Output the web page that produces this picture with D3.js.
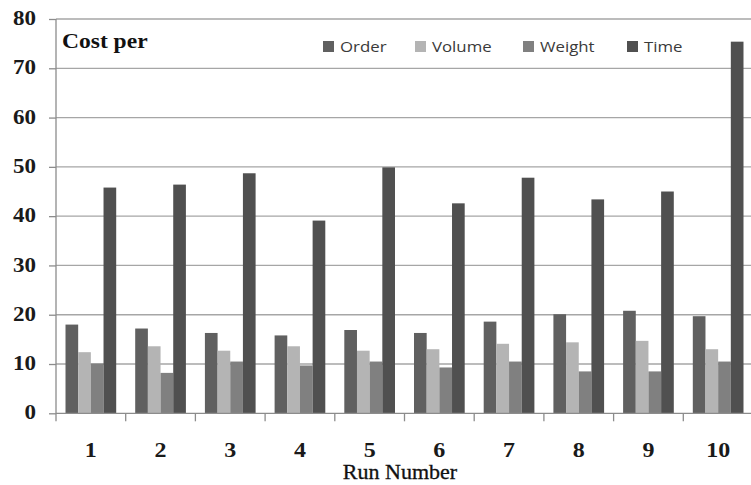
<!DOCTYPE html>
<html><head><meta charset="utf-8">
<script src="https://cdn.jsdelivr.net/npm/d3@7"></script>
<style>body{margin:0;background:#fff}</style>
</head><body>
<svg id="chart" width="751" height="485"></svg>
<script>
const categories = ["1","2","3","4","5","6","7","8","9","10"];
const seriesNames = ["Order","Volume","Weight","Time"];
const orderVals  = [18.0, 17.2, 16.3, 15.8, 16.9, 16.3, 18.6, 20.1, 20.8, 19.7];
const volumeVals = [12.4, 13.6, 12.7, 13.6, 12.7, 13.0, 14.1, 14.4, 14.7, 13.0];
const weightVals = [10.1, 8.2, 10.5, 9.7, 10.5, 9.3, 10.5, 8.5, 8.5, 10.5];
const timeVals   = [45.8, 46.4, 48.7, 39.1, 49.9, 42.6, 47.8, 43.4, 45.0, 75.4];
const yTicks = [0,10,20,30,40,50,60,70,80];
const colors = ["#606060","#b4b4b4","#808080","#505050"];

const series = [orderVals, volumeVals, weightVals, timeVals];
const svg = d3.select("#chart");
const mLeft = 56, mRight = 753, mTop = 19, mBottom = 413.3;
const serif = "'Liberation Serif', 'Times New Roman', serif";

function stretch(sel, k) {
  sel.each(function () {
    const L = this.getComputedTextLength();
    d3.select(this).attr("textLength", L * k).attr("lengthAdjust", "spacingAndGlyphs");
  });
}

const x = d3.scaleBand().domain(categories).range([mLeft, mRight]).paddingInner(0).paddingOuter(0);
const xs = d3.scaleBand().domain(seriesNames).range([0, x.bandwidth()]).paddingInner(0).paddingOuter(0.75);
const y = d3.scaleLinear().domain([0, 80]).range([mBottom, mTop]);

// gridlines
svg.append("g").selectAll("line").data(yTicks.filter(d => d > 0)).join("line")
  .attr("x1", mLeft).attr("x2", 751).attr("y1", d => y(d)).attr("y2", d => y(d))
  .attr("stroke", "#a6a6a6").attr("stroke-width", 1.3);

// bars
const g = svg.append("g");
categories.forEach((c, i) => {
  g.selectAll(null).data(seriesNames).enter().append("rect")
    .attr("x", s => x(c) + xs(s))
    .attr("width", xs.bandwidth())
    .attr("y", (s, k) => y(series[k][i]))
    .attr("height", (s, k) => mBottom - y(series[k][i]))
    .attr("fill", (s, k) => colors[k]);
});

// y axis
const yAxis = d3.axisLeft(y).tickValues(yTicks).tickSize(7).tickPadding(13);
const ya = svg.append("g").attr("transform", `translate(${mLeft},0)`).call(yAxis);
ya.select(".domain").attr("stroke", "#8c8c8c").attr("stroke-width", 1.3).attr("d", `M0,${mTop}V${mBottom}`);
ya.selectAll(".tick line").attr("stroke", "#8c8c8c").attr("stroke-width", 1.3);
ya.selectAll("text").attr("font-family", serif).attr("font-weight", "bold")
  .attr("font-size", 20).attr("fill", "#1a1a1a").attr("dy", "0.28em");
stretch(ya.selectAll("text"), 1.15);

// x axis
const xa = svg.append("g").attr("transform", `translate(0,${mBottom})`);
xa.append("line").attr("x1", mLeft).attr("x2", 751).attr("stroke", "#8c8c8c").attr("stroke-width", 1.3);
xa.selectAll(".tk").data(categories).join("line").attr("class", "tk")
  .attr("x1", d => x(d)).attr("x2", d => x(d)).attr("y1", 0).attr("y2", 8)
  .attr("stroke", "#8c8c8c").attr("stroke-width", 1.3);
const xl = xa.selectAll(".lbl").data(categories).join("text").attr("class", "lbl")
  .attr("x", d => x(d) + x.bandwidth() / 2).attr("y", 44)
  .attr("text-anchor", "middle")
  .attr("font-family", serif).attr("font-weight", "bold")
  .attr("font-size", 20).attr("fill", "#1a1a1a").text(d => d);
stretch(xl, 1.2);

const xt = svg.append("text").attr("x", 400).attr("y", 479).attr("text-anchor", "middle")
  .attr("font-family", serif).attr("font-size", 20).attr("fill", "#111")
  .attr("stroke", "#111").attr("stroke-width", 0.3)
  .text("Run Number");
stretch(xt, 1.1);

const ct = svg.append("text").attr("x", 62).attr("y", 48)
  .attr("font-family", serif).attr("font-weight", "bold").attr("font-size", 21)
  .attr("fill", "#111").text("Cost per");
stretch(ct, 1.12);

// legend
const legendX = [323, 415, 523, 627];
const lg = svg.append("g");
seriesNames.forEach((s, k) => {
  lg.append("rect").attr("x", legendX[k]).attr("y", 41).attr("width", 11).attr("height", 11).attr("fill", colors[k]);
  const t = lg.append("text").attr("x", legendX[k] + 17).attr("y", 52)
    .attr("font-family", "'Open Sans', sans-serif").attr("font-size", 15).attr("fill", "#3a3a3a").text(s);
  stretch(t, 1.12);
});
</script>
</body></html>
